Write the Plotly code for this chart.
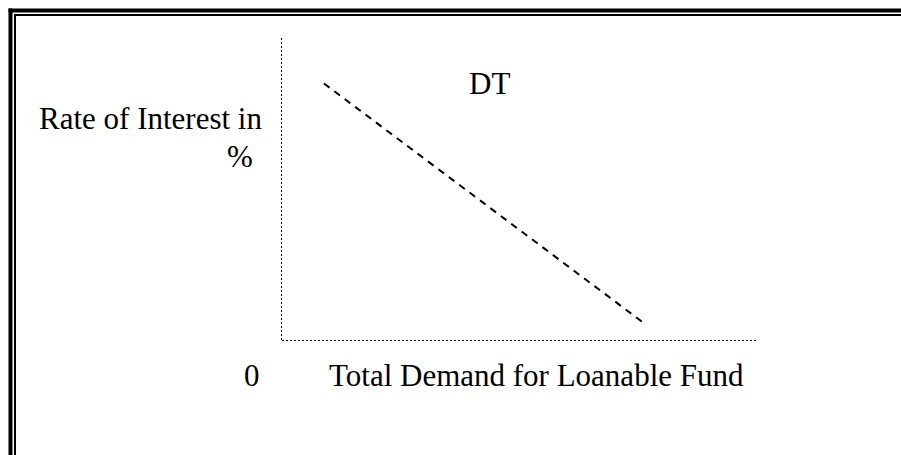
import plotly.graph_objects as go

# demand curve DT (loanable funds vs rate of interest), arbitrary units 0-100
dt_quantity = [9, 76]
dt_rate = [85, 6]

axis_x = [0, 0, 100]
axis_y = [100, 0, 0]

W, H = 901, 455
FONT = "Liberation Serif, Times New Roman, serif"


def px(x):
    return x / W


def py(y):
    return 1 - y / H


fig = go.Figure()

# dotted axes
fig.add_trace(go.Scatter(
    x=axis_x, y=axis_y, mode="lines",
    line=dict(color="black", width=2, dash="2px,2px"),
    hoverinfo="skip", showlegend=False,
))

# dashed demand line
fig.add_trace(go.Scatter(
    x=dt_quantity, y=dt_rate, mode="lines",
    line=dict(color="black", width=2, dash="7px,6px"),
    showlegend=False,
))

# double frame (thick outer, thin inner), open at right and bottom
shapes = []
for off, w in [(10.5, 4), (15, 2)]:
    shapes.append(dict(type="line", xref="paper", yref="paper",
                       x0=px(off - w / 2), x1=1.0, y0=py(off), y1=py(off),
                       line=dict(color="black", width=w)))
    shapes.append(dict(type="line", xref="paper", yref="paper",
                       x0=px(off), x1=px(off), y0=py(off - w / 2), y1=0.0,
                       line=dict(color="black", width=w)))

annotations = [
    dict(text="DT", x=px(489), y=py(83)),
    dict(text="Rate of Interest in", x=px(264), y=py(119), xanchor="right"),
    dict(text="%", x=px(240), y=py(156)),
    dict(text="0", x=px(252), y=py(375)),
    dict(text="Total Demand for Loanable Fund", x=px(327), y=py(375), xanchor="left"),
]
for a in annotations:
    a.update(xref="paper", yref="paper", showarrow=False, yanchor="middle",
             font=dict(family=FONT, size=31, color="black"))
    a.setdefault("xanchor", "center")

fig.update_layout(
    width=W, height=H,
    margin=dict(l=0, r=0, t=0, b=0),
    paper_bgcolor="white", plot_bgcolor="white",
    shapes=shapes, annotations=annotations,
    xaxis=dict(domain=[px(281), px(758)], range=[0, 100], visible=False),
    yaxis=dict(domain=[py(341), py(38)], range=[0, 100], visible=False),
)

fig.write_html("out.html", config={"displayModeBar": False},
               post_script="document.body.style.margin='0';")
